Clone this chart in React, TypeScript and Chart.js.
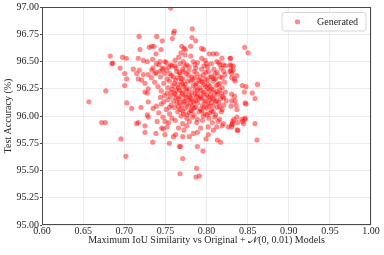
import React, { useEffect, useRef } from 'react';
import { Chart, registerables } from 'chart.js';

Chart.register(...registerables);

const xTicks = [0.6, 0.65, 0.7, 0.75, 0.8, 0.85, 0.9, 0.95, 1.0];
const yTicks = [95.0, 95.25, 95.5, 95.75, 96.0, 96.25, 96.5, 96.75, 97.0];
const seriesLabel = 'Generated';
const xTitle = 'Maximum IoU Similarity vs Original + \u{1D4A9}(0, 0.01) Models';
const yTitle = 'Test Accuracy (%)';

const leftPoints: [number, number][] = [
  [0.657, 96.13], [0.6725, 95.94], [0.677, 95.94], [0.6775, 96.23], [0.683, 96.55], [0.685, 96.48],
  [0.686, 96.485], [0.695, 96.44], [0.696, 95.79], [0.698, 96.54], [0.7005, 96.39], [0.7005, 96.28],
  [0.7025, 96.53], [0.702, 95.63], [0.703, 96.34], [0.703, 96.12], [0.709, 96.07], [0.711, 96.43],
  [0.7151, 96.39], [0.7151, 95.93], [0.7171, 95.94], [0.717, 96.53], [0.717, 96.34], [0.718, 96.73],
  [0.7183, 96.42], [0.7191, 96.61], [0.7204, 96.08], [0.7212, 96.33], [0.7232, 96.51], [0.7232, 96.38],
  [0.7252, 96.3], [0.7252, 96.22], [0.7252, 95.91], [0.7252, 95.85], [0.728, 96.5], [0.728, 96.21],
  [0.728, 96.01], [0.7292, 95.99], [0.7292, 96.38], [0.7292, 96.25], [0.7292, 96.13],
];

const upperPoints: [number, number][] = [
  [0.7305, 96.63], [0.7334, 96.64], [0.7362, 96.64], [0.7394, 96.73], [0.7386, 96.57], [0.7346, 96.52],
  [0.7435, 96.5], [0.7447, 96.61], [0.7463, 96.69], [0.7495, 96.5], [0.7565, 96.99], [0.7585, 96.71],
  [0.76, 96.76], [0.7609, 96.78], [0.7617, 96.51], [0.7662, 96.54], [0.769, 96.58], [0.77, 96.64],
  [0.7726, 96.62], [0.7742, 96.61], [0.7739, 96.56], [0.7718, 96.5], [0.7808, 96.64], [0.7808, 96.55],
  [0.7824, 96.72], [0.7828, 96.8], [0.7869, 96.69], [0.784, 96.5], [0.794, 96.62], [0.7942, 96.53],
  [0.7966, 96.61], [0.7982, 96.51], [0.8034, 96.57], [0.8083, 96.57], [0.8124, 96.57], [0.8124, 96.5],
  [0.8188, 96.53], [0.8286, 96.53], [0.8294, 96.53], [0.8464, 96.63], [0.8505, 96.58],
];

const midPoints: [number, number][] = [
  [0.739, 96.48], [0.7565, 96.47], [0.7617, 96.46], [0.7739, 96.46], [0.786, 96.47], [0.8002, 96.48],
  [0.8164, 96.47], [0.8204, 96.47], [0.8286, 96.47], [0.8298, 96.46], [0.8326, 96.46], [0.8326, 96.42],
  [0.8298, 96.42], [0.8367, 96.37], [0.834, 96.34], [0.8306, 96.39], [0.7334, 96.42], [0.7374, 96.39],
  [0.7435, 96.41], [0.7475, 96.44], [0.7516, 96.42], [0.7556, 96.39], [0.7597, 96.36], [0.7638, 96.41],
  [0.7678, 96.38], [0.7718, 96.41], [0.7779, 96.41], [0.782, 96.36], [0.7881, 96.39], [0.7921, 96.36],
  [0.7961, 96.38], [0.8022, 96.41], [0.8063, 96.36], [0.8103, 96.39], [0.8164, 96.36], [0.8225, 96.38],
  [0.8286, 96.41], [0.8306, 96.35], [0.8346, 96.32],
];

const corePoints: [number, number][] = [
  [0.742, 96.47], [0.751, 96.49], [0.758, 96.46], [0.768, 96.48], [0.776, 96.47], [0.789, 96.49],
  [0.797, 96.46], [0.806, 96.48], [0.815, 96.49], [0.823, 96.46],
  [0.735, 96.44], [0.746, 96.43], [0.754, 96.45], [0.763, 96.44], [0.771, 96.43], [0.779, 96.45],
  [0.787, 96.44], [0.794, 96.43], [0.801, 96.45], [0.809, 96.43], [0.818, 96.44],
  [0.739, 96.4], [0.749, 96.39], [0.767, 96.4], [0.775, 96.39], [0.785, 96.41], [0.799, 96.4],
  [0.813, 96.4], [0.821, 96.41],
  [0.733, 96.35], [0.744, 96.36], [0.752, 96.34], [0.757, 96.37], [0.765, 96.35], [0.771, 96.34],
  [0.778, 96.37], [0.786, 96.35], [0.791, 96.33], [0.798, 96.34], [0.804, 96.36], [0.811, 96.34],
  [0.819, 96.35],
  [0.737, 96.31], [0.748, 96.3], [0.755, 96.32], [0.761, 96.3], [0.769, 96.31], [0.774, 96.29],
  [0.781, 96.32], [0.788, 96.3], [0.795, 96.31], [0.802, 96.29], [0.808, 96.32], [0.816, 96.3],
  [0.822, 96.31],
  [0.741, 96.27], [0.753, 96.26], [0.759, 96.28], [0.766, 96.26], [0.772, 96.27], [0.779, 96.25],
  [0.784, 96.28], [0.792, 96.26], [0.799, 96.27], [0.806, 96.25], [0.812, 96.28], [0.819, 96.26],
  [0.745, 96.23], [0.757, 96.22], [0.763, 96.24], [0.77, 96.22], [0.776, 96.23], [0.782, 96.21],
  [0.789, 96.24], [0.796, 96.22], [0.803, 96.23], [0.81, 96.21], [0.816, 96.24], [0.823, 96.22],
  [0.749, 96.19], [0.756, 96.18], [0.762, 96.2], [0.768, 96.18], [0.774, 96.19], [0.78, 96.17],
  [0.786, 96.2], [0.793, 96.18], [0.8, 96.19], [0.807, 96.17], [0.813, 96.2], [0.82, 96.18],
  [0.753, 96.15], [0.76, 96.14], [0.766, 96.16], [0.772, 96.14], [0.778, 96.15], [0.784, 96.13],
  [0.791, 96.16], [0.797, 96.14], [0.804, 96.15], [0.811, 96.13], [0.817, 96.16], [0.824, 96.14],
  [0.745, 96.11], [0.757, 96.1], [0.764, 96.12], [0.77, 96.1], [0.776, 96.11], [0.783, 96.09],
  [0.789, 96.12], [0.795, 96.1], [0.802, 96.11], [0.808, 96.09], [0.815, 96.12], [0.821, 96.1],
  [0.735, 96.07], [0.751, 96.06], [0.761, 96.08], [0.768, 96.06], [0.774, 96.07], [0.781, 96.05],
  [0.787, 96.08], [0.793, 96.06], [0.8, 96.07], [0.806, 96.05], [0.813, 96.08], [0.819, 96.06],
  [0.742, 96.03], [0.755, 96.02], [0.765, 96.04], [0.772, 96.02], [0.779, 96.03], [0.785, 96.01],
  [0.791, 96.04], [0.798, 96.02], [0.804, 96.03], [0.811, 96.01], [0.818, 96.04],
  [0.747, 95.99], [0.758, 95.98], [0.769, 96.0], [0.776, 95.98], [0.783, 95.99], [0.789, 95.97],
  [0.796, 96.0], [0.803, 95.98], [0.81, 95.99], [0.816, 95.97],
  [0.74, 95.95], [0.754, 95.94], [0.762, 95.96], [0.771, 95.93], [0.779, 95.95], [0.788, 95.94],
  [0.795, 95.96], [0.807, 95.94], [0.814, 95.95],
  [0.752, 95.9], [0.766, 95.89], [0.776, 95.91], [0.793, 95.89], [0.802, 95.9], [0.819, 95.91],
];

const denseCenterPoints: [number, number][] = [
  [0.762, 96.33], [0.769, 96.345], [0.777, 96.32], [0.783, 96.335], [0.793, 96.32], [0.801, 96.33],
  [0.809, 96.345], [0.765, 96.285], [0.771, 96.295], [0.787, 96.285], [0.797, 96.29], [0.804, 96.275],
  [0.814, 96.29], [0.758, 96.245], [0.767, 96.235], [0.775, 96.25], [0.786, 96.24], [0.793, 96.235],
  [0.801, 96.25], [0.808, 96.24], [0.813, 96.225], [0.761, 96.205], [0.771, 96.205], [0.779, 96.195],
  [0.789, 96.2], [0.797, 96.205], [0.805, 96.195], [0.818, 96.205], [0.763, 96.165], [0.775, 96.17],
  [0.782, 96.16], [0.788, 96.175], [0.794, 96.165], [0.802, 96.17], [0.809, 96.16], [0.821, 96.165],
  [0.767, 96.125], [0.773, 96.13], [0.781, 96.125], [0.787, 96.14], [0.799, 96.13], [0.806, 96.125],
  [0.812, 96.14], [0.766, 96.085], [0.778, 96.09], [0.785, 96.075], [0.797, 96.085], [0.803, 96.09],
  [0.816, 96.085], [0.771, 96.045], [0.782, 96.05], [0.794, 96.045], [0.808, 96.04], [0.776, 96.01],
  [0.801, 96.01], [0.752, 96.21], [0.744, 96.17], [0.748, 96.13], [0.739, 96.09], [0.755, 96.08],
];

const rightPoints: [number, number][] = [
  [0.862, 96.29], [0.8557, 96.21], [0.859, 96.16], [0.859, 95.93], [0.8614, 95.78], [0.8435, 96.28],
  [0.848, 96.27], [0.846, 96.22], [0.847, 96.12], [0.848, 96.11], [0.843, 95.97], [0.847, 95.98],
  [0.845, 95.93], [0.838, 95.87], [0.837, 95.99], [0.8306, 95.9], [0.8318, 95.93], [0.837, 96.06],
  [0.8306, 96.2], [0.834, 96.18], [0.8347, 96.14], [0.8306, 96.14], [0.8359, 96.1], [0.8298, 96.09],
  [0.8374, 95.87], [0.8379, 95.94], [0.844, 95.95], [0.8468, 95.97], [0.8334, 95.97],
];

const lowerPoints: [number, number][] = [
  [0.7346, 95.76], [0.7386, 95.84], [0.7455, 95.89], [0.7475, 95.88], [0.7495, 95.83], [0.7495, 95.95],
  [0.7548, 95.75], [0.7597, 95.81], [0.7625, 95.83], [0.767, 95.72], [0.7686, 95.72], [0.7711, 95.61],
  [0.7678, 95.47], [0.7711, 95.81], [0.7726, 95.87], [0.7791, 95.81], [0.784, 95.84], [0.7889, 95.85],
  [0.7889, 95.72], [0.7957, 95.68], [0.788, 95.52], [0.7872, 95.44], [0.7913, 95.45], [0.7994, 95.79],
  [0.8022, 95.83], [0.8131, 95.78], [0.8172, 95.76], [0.8083, 95.87], [0.8124, 95.9], [0.8204, 95.93],
  [0.8265, 95.9], [0.8306, 95.92], [0.8318, 95.95],
];

const allPoints = [
  ...leftPoints, ...upperPoints, ...midPoints, ...corePoints, ...denseCenterPoints, ...rightPoints, ...lowerPoints,
];

const FONT = "'Liberation Serif', 'DejaVu Serif', serif";
const TEXT = '#262626';
const POINT = 'rgba(255, 0, 0, 0.45)';

const framePlugin = {
  id: 'frame',
  afterDraw(chart: any) {
    const { ctx, chartArea } = chart;
    const l = Math.round(chartArea.left) + 0.5;
    const t = Math.round(chartArea.top) + 0.5;
    const r = Math.round(chartArea.right) - 0.5;
    const b = Math.round(chartArea.bottom) - 0.5;
    ctx.save();
    ctx.strokeStyle = '#4a4a4a';
    ctx.lineWidth = 1;
    ctx.strokeRect(l, t, r - l, b - t);
    ctx.restore();
  },
};

const legendPlugin = {
  id: 'boxLegend',
  afterDraw(chart: any) {
    const { ctx, chartArea } = chart;
    const w = 84;
    const h = 18.5;
    const x = chartArea.right - 5 - w;
    const y = chartArea.top + 5.5;
    ctx.save();
    ctx.beginPath();
    ctx.roundRect(x, y, w, h, 2.5);
    ctx.fillStyle = 'rgba(255,255,255,0.85)';
    ctx.fill();
    ctx.strokeStyle = '#d6d6d6';
    ctx.lineWidth = 1;
    ctx.stroke();
    ctx.beginPath();
    ctx.arc(x + 15.5, y + h / 2, 2.6, 0, Math.PI * 2);
    ctx.fillStyle = POINT;
    ctx.fill();
    ctx.fillStyle = TEXT;
    ctx.font = `10px ${FONT}`;
    ctx.textBaseline = 'middle';
    ctx.textAlign = 'left';
    ctx.fillText(seriesLabel, x + 35, y + h / 2 + 0.5);
    ctx.restore();
  },
};

export default function App() {
  const ref = useRef<HTMLCanvasElement>(null);
  useEffect(() => {
    document.body.style.margin = '0';
    const chart = new Chart(ref.current as HTMLCanvasElement, {
      type: 'scatter',
      data: {
        datasets: [
          {
            label: seriesLabel,
            data: allPoints.map(([x, y]) => ({ x, y })),
            backgroundColor: POINT,
            borderWidth: 0,
            pointRadius: 2.6,
          },
        ],
      },
      options: {
        responsive: false,
        animation: false,
        layout: { padding: { top: 7, right: 13, left: 0, bottom: 0 } },
        plugins: { legend: { display: false }, tooltip: { enabled: false } },
        scales: {
          x: {
            type: 'linear',
            min: 0.6,
            max: 1.0,
            afterBuildTicks: (s: any) => {
              s.ticks = xTicks.map((v) => ({ value: v }));
            },
            afterFit: (s: any) => {
              s.height = 30;
            },
            ticks: {
              callback: (v: any) => Number(v).toFixed(2),
              font: { family: FONT, size: 10 },
              color: TEXT,
              padding: 0,
              maxRotation: 0,
              autoSkip: false,
            },
            grid: { color: 'rgba(0,0,0,0.07)', drawTicks: false },
            border: { display: false },
            title: {
              display: true,
              text: xTitle,
              font: { family: FONT, size: 10 },
              color: TEXT,
              padding: { top: 0, bottom: 9 },
            },
          },
          y: {
            type: 'linear',
            min: 95,
            max: 97,
            afterBuildTicks: (s: any) => {
              s.ticks = yTicks.map((v) => ({ value: v }));
            },
            afterFit: (s: any) => {
              s.width = 42;
            },
            ticks: {
              callback: (v: any) => Number(v).toFixed(2),
              font: { family: FONT, size: 10 },
              color: TEXT,
              padding: 1,
              autoSkip: false,
            },
            grid: { color: 'rgba(0,0,0,0.07)', tickColor: '#4a4a4a', tickLength: 2 },
            border: { display: false },
            title: {
              display: true,
              text: yTitle,
              font: { family: FONT, size: 10 },
              color: TEXT,
              padding: { top: 2, bottom: 0 },
            },
          },
        },
      },
      plugins: [framePlugin, legendPlugin],
    } as any);
    return () => chart.destroy();
  }, []);
  return (
    <div style={{ width: 384, height: 255 }}>
      <canvas ref={ref} width={384} height={255} style={{ display: 'block' }} />
    </div>
  );
}
